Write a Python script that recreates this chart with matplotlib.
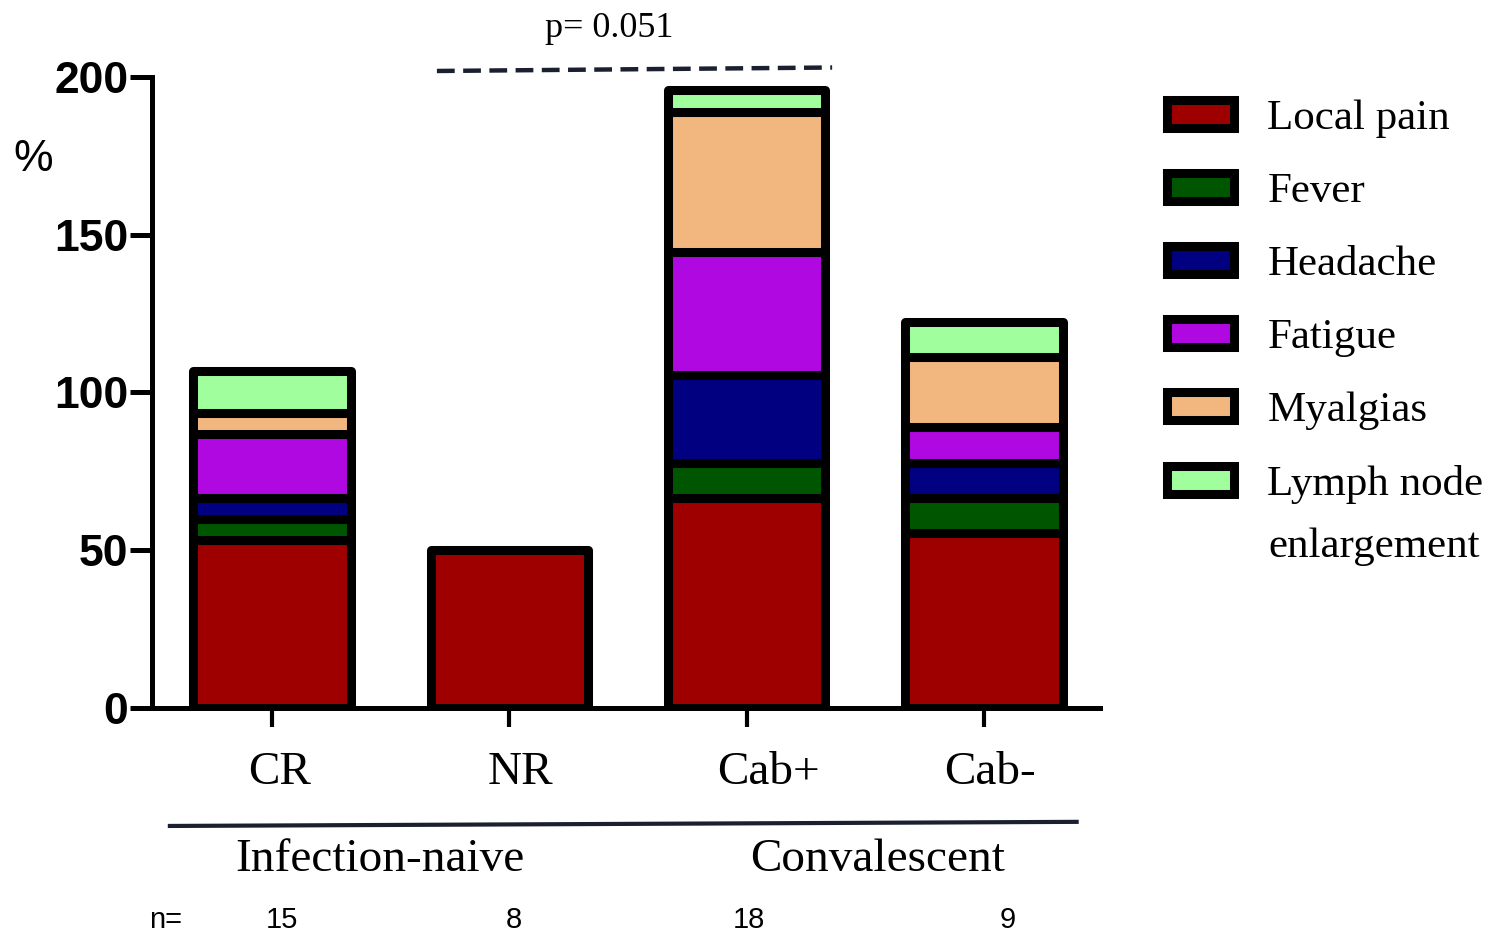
import matplotlib
matplotlib.use("Agg")
import matplotlib.pyplot as plt
import matplotlib.transforms as mtransforms
import numpy as np

groups = ["CR", "NR", "Cab+", "Cab-"]
n_values = ["15", "8", "18", "9"]
symptoms = ["Local pain", "Fever", "Headache", "Fatigue", "Myalgias", "Lymph node"]
last_label_line2 = "enlargement"
local_pain = [53.3, 50.0, 66.7, 55.6]
fever = [6.7, 0.0, 11.1, 11.1]
headache = [6.7, 0.0, 27.8, 11.1]
fatigue = [20.0, 0.0, 38.9, 11.1]
myalgias = [6.7, 0.0, 44.4, 22.2]
lymph_node = [13.3, 0.0, 7.0, 11.1]
colors = ["#9e0000", "#005600", "#000080", "#b008e0", "#f1b77f", "#a0fe9d"]
group_labels = ["Infection-naive", "Convalescent"]
p_text = "p= 0.051"

series = [local_pain, fever, headache, fatigue, myalgias, lymph_node]

serif = ["Liberation Serif", "DejaVu Serif"]
sans = ["Liberation Sans", "DejaVu Sans"]

fig = plt.figure(figsize=(14.91, 9.33), dpi=100)
ax = fig.add_axes([0.102, 0.2412, 0.636, 0.6763])

x = np.arange(len(groups))
bottom = np.zeros(len(groups))
handles = []
for vals, col, lab in zip(series, colors, symptoms):
    vals = np.array(vals)
    mask = vals > 0
    bars = ax.bar(x[mask], vals[mask], bottom=bottom[mask], width=0.664,
                  color=col, edgecolor="black", linewidth=6.5, label=lab,
                  joinstyle="round", zorder=2)
    handles.append(bars)
    bottom = bottom + vals

ax.set_xlim(-0.505, 3.49)
ax.set_ylim(0, 200)
ax.set_yticks([0, 50, 100, 150, 200])
ax.set_xticks(x)
ax.set_xticklabels([])
for lbl in ax.get_yticklabels():
    lbl.set_fontfamily(sans)
    lbl.set_fontweight("bold")
    lbl.set_fontsize(32)
ax.tick_params(axis="y", length=16, width=3.6, pad=1)
ax.tick_params(axis="x", length=14, width=3.0, pad=18)
for s in ["top", "right"]:
    ax.spines[s].set_visible(False)
for s in ["left", "bottom"]:
    ax.spines[s].set_linewidth(3.6)
    ax.spines[s].set_zorder(3)

# category labels (slightly offset to the right as in the reference)
label_shift = [0.034, 0.046, 0.093, 0.025]
blend = mtransforms.blended_transform_factory(ax.transData, ax.transAxes)
for xi, g, dx in zip(x, groups, label_shift):
    ax.text(xi + dx, -0.103, g, fontsize=34, family=serif, ha="center", va="center",
            transform=blend, clip_on=False)

# y label
ax.text(-1.006, 174, "%", fontsize=32, family=sans, ha="center", va="center", clip_on=False)

# p-value dashed line
ax.plot([0.695, 2.36], [201.9, 203.0], color="#1a2030", lw=3.2, dashes=(4, 1.9),
        clip_on=False, solid_capstyle="butt")
ax.text(1.42, 215.5, p_text, fontsize=26, family=serif, ha="center", va="center", clip_on=False)

# group underline
ax.plot([-0.43, 3.39], [-37.4, -36.1], color="#1a2030", lw=3.0, clip_on=False)
ax.text(0.455, -48.2, group_labels[0], fontsize=34, family=serif, ha="center", va="center", clip_on=False)
ax.text(2.55, -48.2, group_labels[1], fontsize=34, family=serif, ha="center", va="center", clip_on=False)

# n values
ax.text(-0.45, -67.2, "n=", fontsize=21, family=sans, ha="center", va="center", clip_on=False)
n_x = [0.04, 1.02, 2.01, 3.1]
for xi, nv in zip(n_x, n_values):
    ax.text(xi, -67.2, nv, fontsize=21, family=sans, ha="center", va="center", clip_on=False)

leg = ax.legend(handles=handles, labels=symptoms, loc="upper left",
                bbox_to_anchor=(1167 / 1491, (933 - 100) / 933), bbox_transform=fig.transFigure,
                frameon=False, prop={"family": serif, "size": 31},
                handlelength=1.55, handleheight=0.62, handletextpad=0.78,
                labelspacing=0.8, borderpad=0, borderaxespad=0)

fig.text(1268 / 1491, (933 - 547) / 933, last_label_line2, fontsize=31, family=serif,
         ha="left", va="center")

fig.savefig("out.png", dpi=100)
